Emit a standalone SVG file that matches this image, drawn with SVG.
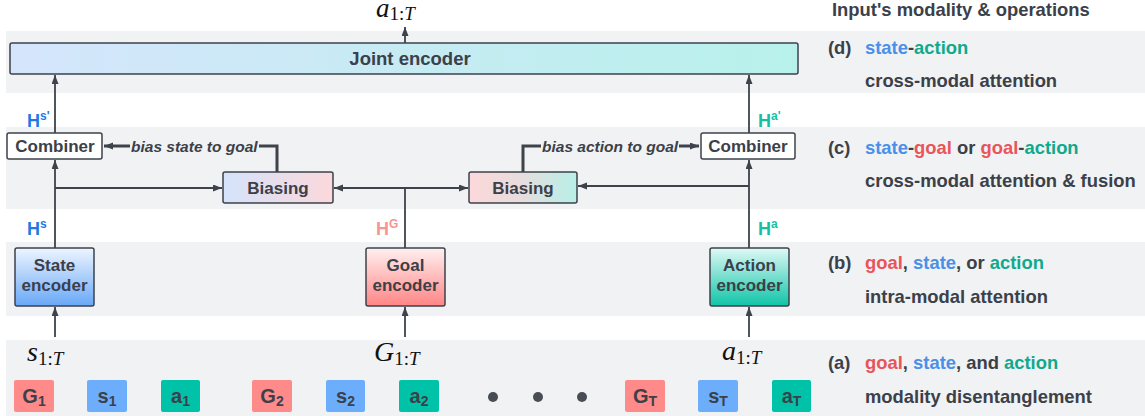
<svg xmlns="http://www.w3.org/2000/svg" width="1145" height="416" viewBox="0 0 1145 416">
<style>
.band{fill:#f1f2f4}
.box{stroke:#3d424b;stroke-width:1.5}
.lbl{font-family:"Liberation Sans",Arial,sans-serif;font-weight:bold;fill:#3b4049}
.ln{stroke:#3d424b;stroke-width:1.8;fill:none}
.thk{stroke:#3d424b;stroke-width:3;fill:none}
.it{font-family:"Liberation Sans",Arial,sans-serif;font-weight:bold;font-style:italic;font-size:15.5px;fill:#3b4049}
.math{font-family:"Liberation Serif","Times New Roman",serif;font-style:italic;fill:#111}
.col{font-family:"Liberation Sans",Arial,sans-serif;font-weight:bold;font-size:18.4px;fill:#3b4049}
.st{fill:#4a90e8}.gl{fill:#e8555a}.ac{fill:#10a98c}
.tok{font-family:"Liberation Sans",Arial,sans-serif;font-weight:bold;font-size:20px;fill:#3b4049}
.hl{font-family:"Liberation Sans",Arial,sans-serif;font-weight:bold;font-size:18px}
</style>
<defs>
<marker id="arr" markerUnits="userSpaceOnUse" markerWidth="10" markerHeight="8" refX="9" refY="3.5" orient="auto"><path d="M0,0 L9,3.5 L0,7 z" fill="#3d424b"/></marker>
<linearGradient id="gJoint" x1="0" y1="0" x2="1" y2="0"><stop offset="0" stop-color="#d5e5fc"/><stop offset="1" stop-color="#b8f1eb"/></linearGradient>
<linearGradient id="gBiasL" x1="0" y1="0" x2="1" y2="0"><stop offset="0" stop-color="#d4e3fb"/><stop offset="1" stop-color="#fcd8db"/></linearGradient>
<linearGradient id="gBiasR" x1="0" y1="0" x2="1" y2="0"><stop offset="0" stop-color="#fdd8da"/><stop offset="0.45" stop-color="#e9dcdc"/><stop offset="1" stop-color="#b8efe8"/></linearGradient>
<linearGradient id="gState" x1="0" y1="0" x2="0" y2="1"><stop offset="0" stop-color="#eef5ff"/><stop offset="1" stop-color="#68a8f7"/></linearGradient>
<linearGradient id="gGoal" x1="0" y1="0" x2="0" y2="1"><stop offset="0" stop-color="#fff0f0"/><stop offset="1" stop-color="#ff8585"/></linearGradient>
<linearGradient id="gAction" x1="0" y1="0" x2="0" y2="1"><stop offset="0" stop-color="#dff9f5"/><stop offset="1" stop-color="#0fc4a8"/></linearGradient>
</defs>

<g id="bands">
<rect class="band" x="6" y="31" width="1139" height="62"/>
<rect class="band" x="6" y="127" width="1139" height="82"/>
<rect class="band" x="6" y="242" width="1139" height="74"/>
<rect class="band" x="6" y="340" width="1139" height="76"/>
</g>

<g id="connectors">
<line class="ln" x1="405" y1="43" x2="405" y2="27" marker-end="url(#arr)"/>
<line class="ln" x1="55" y1="133" x2="55" y2="75" marker-end="url(#arr)"/>
<line class="ln" x1="749" y1="133" x2="749" y2="75" marker-end="url(#arr)"/>
<line class="ln" x1="55" y1="248" x2="55" y2="160" marker-end="url(#arr)"/>
<line class="ln" x1="749" y1="248" x2="749" y2="160" marker-end="url(#arr)"/>
<line class="ln" x1="55" y1="188" x2="222" y2="188" marker-end="url(#arr)"/>
<line class="ln" x1="749" y1="186" x2="578" y2="186" marker-end="url(#arr)"/>
<line class="ln" x1="405" y1="248" x2="405" y2="188"/>
<line class="ln" x1="405" y1="188" x2="334" y2="188" marker-end="url(#arr)"/>
<line class="ln" x1="405" y1="188" x2="468" y2="188" marker-end="url(#arr)"/>
<path class="thk" d="M277,172 V146 H259"/>
<line class="thk" x1="130" y1="146" x2="104" y2="146" marker-end="url(#arr)"/>
<path class="thk" d="M523,172 V146 H541"/>
<line class="thk" x1="679" y1="146" x2="699" y2="146" marker-end="url(#arr)"/>
<line class="ln" x1="55" y1="337" x2="55" y2="307" marker-end="url(#arr)"/>
<line class="ln" x1="405" y1="337" x2="405" y2="307" marker-end="url(#arr)"/>
<line class="ln" x1="749" y1="337" x2="749" y2="307" marker-end="url(#arr)"/>
<text class="it" x="131" y="151.5">bias state to goal</text>
<text class="it" x="542" y="151.5">bias action to goal</text>
</g>

<g id="joint-encoder">
<rect class="box" x="10" y="43" width="788" height="31" rx="2" fill="url(#gJoint)"/>
<text class="lbl" x="410" y="64.5" font-size="18.5" text-anchor="middle">Joint encoder</text>
</g>

<g id="combiner-state">
<rect class="box" x="7" y="133" width="95" height="26" rx="2" fill="#fff"/>
<text class="lbl" x="55" y="152" font-size="17" text-anchor="middle">Combiner</text>
</g>
<g id="combiner-action">
<rect class="box" x="701" y="133" width="94" height="26" rx="2" fill="#fff"/>
<text class="lbl" x="748" y="152" font-size="17" text-anchor="middle">Combiner</text>
</g>

<g id="biasing-state">
<rect class="box" x="223" y="172" width="110" height="31" rx="2" fill="url(#gBiasL)"/>
<text class="lbl" x="278" y="193.5" font-size="17" text-anchor="middle">Biasing</text>
</g>
<g id="biasing-action">
<rect class="box" x="469" y="172" width="108" height="31" rx="2" fill="url(#gBiasR)"/>
<text class="lbl" x="523" y="193.5" font-size="17" text-anchor="middle">Biasing</text>
</g>

<g id="state-encoder">
<rect class="box" x="15" y="248" width="79" height="58" rx="2" fill="url(#gState)"/>
<text class="lbl" x="54.5" y="271" font-size="17" text-anchor="middle">State</text>
<text class="lbl" x="54.5" y="291" font-size="17" text-anchor="middle">encoder</text>
</g>
<g id="goal-encoder">
<rect class="box" x="366" y="248" width="79" height="58" rx="2" fill="url(#gGoal)"/>
<text class="lbl" x="405.5" y="271" font-size="17" text-anchor="middle">Goal</text>
<text class="lbl" x="405.5" y="291" font-size="17" text-anchor="middle">encoder</text>
</g>
<g id="action-encoder">
<rect class="box" x="710" y="248" width="79" height="58" rx="2" fill="url(#gAction)"/>
<text class="lbl" x="749.5" y="271" font-size="17" text-anchor="middle">Action</text>
<text class="lbl" x="749.5" y="291" font-size="17" text-anchor="middle">encoder</text>
</g>

<g id="h-labels">
<text class="hl" x="27" y="127" fill="#1f78e6">H<tspan font-size="12" dy="-7">s'</tspan></text>
<text class="hl" x="27" y="235" fill="#1f78e6">H<tspan font-size="12" dy="-7">s</tspan></text>
<text class="hl" x="376" y="235" fill="#f79595">H<tspan font-size="12" dy="-7">G</tspan></text>
<text class="hl" x="758" y="235" fill="#16bfa4">H<tspan font-size="12" dy="-7">a</tspan></text>
<text class="hl" x="758" y="127" fill="#16bfa4">H<tspan font-size="12" dy="-7">a'</tspan></text>
</g>

<g id="math-labels">
<text class="math" x="376" y="17" font-size="27">a<tspan font-size="19" font-style="normal" dy="3">1:</tspan><tspan font-size="19">T</tspan></text>
<text class="math" x="27" y="361" font-size="28">s<tspan font-size="19" font-style="normal" dy="4">1:</tspan><tspan font-size="19">T</tspan></text>
<text class="math" x="374" y="361" font-size="28">G<tspan font-size="19" font-style="normal" dy="4">1:</tspan><tspan font-size="19">T</tspan></text>
<text class="math" x="722" y="360" font-size="28">a<tspan font-size="19" font-style="normal" dy="4">1:</tspan><tspan font-size="19">T</tspan></text>
</g>

<g id="tokens">
<rect x="14" y="380" width="40" height="32" rx="2" fill="#ff8a8a"/>
<text class="tok" x="34" y="403" text-anchor="middle">G<tspan font-size="14" dy="3">1</tspan></text>
<rect x="87" y="380" width="40" height="32" rx="2" fill="#6caefc"/>
<text class="tok" x="107" y="403" text-anchor="middle">s<tspan font-size="14" dy="3">1</tspan></text>
<rect x="161" y="380" width="39" height="32" rx="2" fill="#00c2a8"/>
<text class="tok" x="180.5" y="403" text-anchor="middle">a<tspan font-size="14" dy="3">1</tspan></text>
<rect x="252" y="380" width="40" height="32" rx="2" fill="#ff8a8a"/>
<text class="tok" x="272" y="403" text-anchor="middle">G<tspan font-size="14" dy="3">2</tspan></text>
<rect x="326" y="380" width="39" height="32" rx="2" fill="#6caefc"/>
<text class="tok" x="345.5" y="403" text-anchor="middle">s<tspan font-size="14" dy="3">2</tspan></text>
<rect x="399" y="380" width="40" height="32" rx="2" fill="#00c2a8"/>
<text class="tok" x="419" y="403" text-anchor="middle">a<tspan font-size="14" dy="3">2</tspan></text>
<circle cx="493" cy="397" r="5" fill="#474c55"/>
<circle cx="538" cy="397" r="5" fill="#474c55"/>
<circle cx="582" cy="397" r="5" fill="#474c55"/>
<rect x="625" y="380" width="40" height="32" rx="2" fill="#ff8a8a"/>
<text class="tok" x="645" y="403" text-anchor="middle">G<tspan font-size="14" dy="3">T</tspan></text>
<rect x="698" y="380" width="40" height="32" rx="2" fill="#6caefc"/>
<text class="tok" x="718" y="403" text-anchor="middle">s<tspan font-size="14" dy="3">T</tspan></text>
<rect x="772" y="380" width="39" height="32" rx="2" fill="#00c2a8"/>
<text class="tok" x="791.5" y="403" text-anchor="middle">a<tspan font-size="14" dy="3">T</tspan></text>
</g>

<g id="legend">
<text class="col" x="832" y="16" font-size="19.5">Input's modality &amp; operations</text>
<text class="col" x="828" y="54">(d)</text>
<text class="col" x="865" y="54"><tspan class="st">state</tspan>-<tspan class="ac">action</tspan></text>
<text class="col" x="865" y="87">cross-modal attention</text>
<text class="col" x="828" y="154">(c)</text>
<text class="col" x="865" y="154"><tspan class="st">state</tspan>-<tspan class="gl">goal</tspan> or <tspan class="gl">goal</tspan>-<tspan class="ac">action</tspan></text>
<text class="col" x="865" y="187">cross-modal attention &amp; fusion</text>
<text class="col" x="828" y="269">(b)</text>
<text class="col" x="865" y="269"><tspan class="gl">goal</tspan>, <tspan class="st">state</tspan>, or <tspan class="ac">action</tspan></text>
<text class="col" x="865" y="303">intra-modal attention</text>
<text class="col" x="828" y="369">(a)</text>
<text class="col" x="865" y="369"><tspan class="gl">goal</tspan>, <tspan class="st">state</tspan>, and <tspan class="ac">action</tspan></text>
<text class="col" x="865" y="403">modality disentanglement</text>
</g>
</svg>
